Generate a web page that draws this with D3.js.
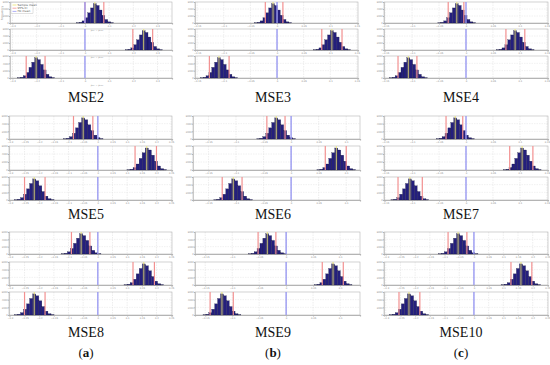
<!DOCTYPE html>
<html>
<head>
<meta charset="utf-8">
<script src="https://cdn.jsdelivr.net/npm/d3@7"></script>
<style>
  body { margin: 0; background: #fff; }
  svg { display: block; }
</style>
</head>
<body>
<svg id="graph"></svg>
<script>
// one entry per panel (MSE2..MSE10), three histograms per panel
const panelNames = ['MSE2', 'MSE3', 'MSE4', 'MSE5', 'MSE6', 'MSE7', 'MSE8', 'MSE9', 'MSE10']
const columnLabels = ['a', 'b', 'c']

const xDomains = [
  [-0.31, 0.36], [-0.154, 0.152], [-0.152, 0.152],
  [-0.303, 0.253], [-0.178, 0.125], [-0.152, 0.152],
  [-0.303, 0.253], [-0.169, 0.137], [-0.306, 0.252]
]
const xTicks = [
  [-0.3, -0.2, -0.1, 0, 0.1, 0.2, 0.3],
  [-0.15, -0.1, -0.05, 0, 0.05, 0.1, 0.15],
  [-0.15, -0.1, -0.05, 0, 0.05, 0.1, 0.15],
  [-0.3, -0.25, -0.2, -0.15, -0.1, -0.05, 0, 0.05, 0.1, 0.15, 0.2, 0.25],
  [-0.15, -0.1, -0.05, 0, 0.05, 0.1],
  [-0.15, -0.1, -0.05, 0, 0.05, 0.1, 0.15],
  [-0.3, -0.25, -0.2, -0.15, -0.1, -0.05, 0, 0.05, 0.1, 0.15, 0.2, 0.25],
  [-0.15, -0.1, -0.05, 0, 0.05, 0.1],
  [-0.3, -0.25, -0.2, -0.15, -0.1, -0.05, 0, 0.05, 0.1, 0.15, 0.2, 0.25]
]
const binWidths = [0.0118, 0.0054, 0.0054, 0.0104, 0.0054, 0.0054, 0.0104, 0.0054, 0.0104]

const sampleMeans = [
  [0.041, 0.243, -0.202], [-0.0075, 0.103, -0.109], [-0.017, 0.091, -0.107],
  [-0.05, 0.167, -0.217], [-0.027, 0.082, -0.105], [-0.020, 0.104, -0.104],
  [-0.057, 0.157, -0.217], [-0.035, 0.087, -0.119], [-0.054, 0.16, -0.221]
]
const ciLower = [
  [0.0, 0.198, -0.243], [-0.022, 0.084, -0.127], [-0.033, 0.074, -0.126],
  [-0.083, 0.127, -0.25], [-0.044, 0.062, -0.125], [-0.037, 0.081, -0.126],
  [-0.09, 0.12, -0.25], [-0.052, 0.067, -0.141], [-0.088, 0.126, -0.255]
]
const ciUpper = [
  [0.078, 0.28, -0.165], [0.011, 0.122, -0.09], [-0.004, 0.109, -0.091],
  [-0.017, 0.2, -0.18], [-0.011, 0.1, -0.089], [-0.006, 0.124, -0.081],
  [-0.027, 0.193, -0.18], [-0.019, 0.106, -0.098], [-0.024, 0.197, -0.184]
]
const hypothesisValue = 0

// bin heights of the bootstrap histograms (same resampling size everywhere)
const binCounts = [40, 180, 600, 1500, 2900, 4300, 5500, 5000, 3700, 2200, 1000, 330, 80]
const yTicks = [0, 2000, 4000, 6000]
const legendItems = ['Sample mean', '95% CI', 'H0 mean']

document.addEventListener('DOMContentLoaded', function () {
  const width = 550
  const height = 365

  const colours = {
    bar: '#241f7c',
    edge: '#0c0c30',
    ci: '#f29090',
    mean: '#ece46c',
    hyp: '#9a9af2',
    grid: '#e2e2e2',
    frame: '#b4b4b4',
    text: '#888'
  }

  const colX = [[[10, 172], [9, 172], [9, 172]],
    [[195, 358], [193, 360], [195, 360]],
    [[384, 548], [384, 548], [384, 548]]]
  const rowY = [[[2, 23], [29, 50], [56, 78]],
    [[116, 139], [146, 170], [177, 200]],
    [[232, 254], [262, 285], [292, 315]]]
  const labelY = [102, 219, 337]
  const labelX = [86, 273, 461]

  const svg = d3.select('#graph')
    .attr('width', width)
    .attr('height', height)

  const fmt = d3.format('~g')

  const drawSubplot = (p, k) => {
    const col = p % 3
    const row = Math.floor(p / 3)
    const [x0, x1] = colX[col][row]
    const [y0, y1] = rowY[row][k]

    const x = d3.scaleLinear().domain(xDomains[p]).range([x0, x1])
    const y = d3.scaleLinear().domain([0, 6000]).range([y1, y0])

    const g = svg.append('g').attr('class', 'sub')

    // grid
    g.append('g')
      .selectAll('line')
      .data(xTicks[p])
      .enter()
      .append('line')
      .attr('x1', d => x(d)).attr('x2', d => x(d))
      .attr('y1', y0).attr('y2', y1)
      .style('stroke', colours.grid)
      .style('stroke-width', 0.6)
      .style('stroke-dasharray', '1.5,1')
    g.append('g')
      .selectAll('line')
      .data(yTicks.slice(1, -1))
      .enter()
      .append('line')
      .attr('x1', x0).attr('x2', x1)
      .attr('y1', d => y(d)).attr('y2', d => y(d))
      .style('stroke', colours.grid)
      .style('stroke-width', 0.5)
      .style('stroke-dasharray', '1.5,1')

    // frame
    g.append('rect')
      .attr('x', x0).attr('y', y0)
      .attr('width', x1 - x0).attr('height', y1 - y0)
      .style('fill', 'none')
      .style('stroke', colours.frame)
      .style('stroke-width', 0.6)

    // axes
    const xAxis = g.append('g')
      .attr('transform', 'translate(0,' + y1 + ')')
      .call(d3.axisBottom(x).tickValues(xTicks[p]).tickSize(1.5).tickFormat(fmt))
    xAxis.select('.domain').style('stroke', colours.frame).style('stroke-width', 1.2)
    xAxis.selectAll('line').style('stroke', colours.frame)
    xAxis.selectAll('text')
      .attr('y', 2.2)
      .style('font-size', '2.4px')
      .style('fill', colours.text)
      .style('font-family', 'DejaVu Sans')

    const yAxis = g.append('g')
      .attr('transform', 'translate(' + x0 + ',0)')
      .call(d3.axisLeft(y).tickValues(yTicks).tickSize(1).tickFormat(d3.format('d')))
    yAxis.select('.domain').style('stroke', colours.frame).style('stroke-width', 0.6)
    yAxis.selectAll('line').style('stroke', colours.frame)
    yAxis.selectAll('text')
      .attr('x', -1.3)
      .style('font-size', '2.3px')
      .style('fill', colours.text)
      .style('font-family', 'DejaVu Sans')

    // histogram
    const m = sampleMeans[p][k]
    const bw = binWidths[p]
    const half = binCounts.length / 2
    g.append('g')
      .selectAll('rect')
      .data(binCounts)
      .enter()
      .append('rect')
      .attr('x', (d, i) => x(m + (i - half) * bw))
      .attr('width', (d, i) => x(m + (i - half + 1) * bw) - x(m + (i - half) * bw))
      .attr('y', d => y(d))
      .attr('height', d => y1 - y(d))
      .style('fill', colours.bar)
      .style('stroke', colours.edge)
      .style('stroke-width', 0.25)

    const vline = (v, colour, w) => {
      g.append('line')
        .attr('x1', x(v)).attr('x2', x(v))
        .attr('y1', y0).attr('y2', y1)
        .style('stroke', colour)
        .style('stroke-width', w)
    }
    vline(ciLower[p][k], colours.ci, 1.2)
    vline(ciUpper[p][k], colours.ci, 1.2)
    vline(m, colours.mean, 0.9)
    vline(hypothesisValue, colours.hyp, 1.4)

    // axis caption only on the first panel
    if (p === 0) {
      g.append('text')
        .attr('x', (x0 + x1) / 2 + 6)
        .attr('y', y1 + 7.6)
        .attr('text-anchor', 'middle')
        .style('font-size', '2.4px')
        .style('fill', colours.text)
        .style('font-family', 'DejaVu Sans')
        .text('\u03bc\u2097\u2092\u1d65 \u2212 \u03bc\u2095\u1d62\u2089\u2095')
    }
  }

  const drawLegend = () => {
    const lg = svg.append('g').attr('transform', 'translate(11,2.5)')
    lg.append('rect')
      .attr('width', 22).attr('height', 11)
      .style('fill', '#fff')
      .style('stroke', colours.frame)
      .style('stroke-width', 0.4)
    const cols = [colours.mean, colours.ci, colours.hyp]
    lg.selectAll('g.item')
      .data(legendItems)
      .enter()
      .append('g')
      .attr('class', 'item')
      .attr('transform', (d, i) => 'translate(1.5,' + (2.5 + i * 3.2) + ')')
      .each(function (d, i) {
        d3.select(this).append('line')
          .attr('x1', 0).attr('x2', 4)
          .style('stroke', cols[i]).style('stroke-width', 0.8)
        d3.select(this).append('text')
          .attr('x', 5).attr('y', 1)
          .style('font-size', '2.8px')
          .style('fill', '#555')
          .style('font-family', 'DejaVu Sans')
          .text(d)
      })
    svg.append('text')
      .attr('transform', 'translate(3,13) rotate(-90)')
      .attr('text-anchor', 'middle')
      .style('font-size', '2.8px')
      .style('fill', colours.text)
      .style('font-family', 'DejaVu Sans')
      .text('Frequency')
  }

  panelNames.forEach((name, p) => {
    [0, 1, 2].forEach(k => drawSubplot(p, k))
    svg.append('text')
      .attr('x', labelX[p % 3])
      .attr('y', labelY[Math.floor(p / 3)])
      .attr('text-anchor', 'middle')
      .style('font-family', 'Liberation Serif, DejaVu Serif, serif')
      .style('font-size', '14px')
      .style('fill', '#111')
      .text(name)
  })
  drawLegend()

  const cap = svg.selectAll('text.cap')
    .data(columnLabels)
    .enter()
    .append('text')
    .attr('class', 'cap')
    .attr('x', (d, i) => labelX[i])
    .attr('y', 357)
    .attr('text-anchor', 'middle')
    .style('font-family', 'Liberation Serif, DejaVu Serif, serif')
    .style('font-size', '13px')
    .style('fill', '#111')
  cap.append('tspan').text('(')
  cap.append('tspan').style('font-weight', 'bold').text(d => d)
  cap.append('tspan').text(')')
}, false)
</script>
</body>
</html>
